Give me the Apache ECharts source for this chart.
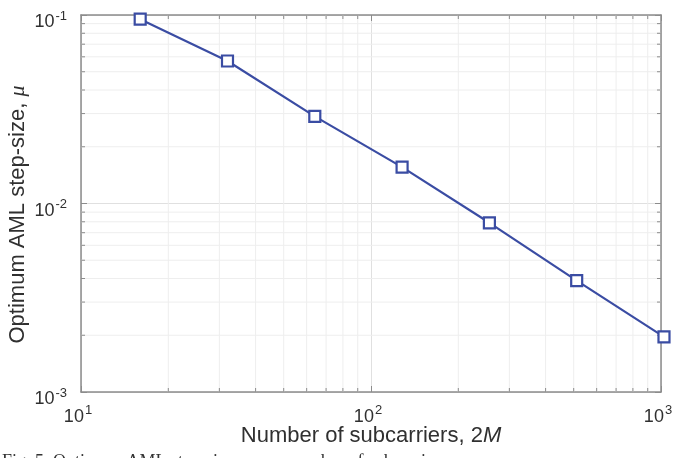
<!DOCTYPE html>
<html>
<head>
<meta charset="utf-8">
<script src="https://cdn.jsdelivr.net/npm/echarts@6/dist/echarts.min.js"></script>
<style>
html,body{margin:0;padding:0;background:#fff;}
#c{width:673px;height:458px;}
</style>
</head>
<body>
<div id="c"></div>
<script>
// Data
const subcarriers = [16, 32, 64, 128, 256, 512, 1024];
const stepSize = [0.095, 0.057, 0.029, 0.0156, 0.0079, 0.0039, 0.00196];
const xMinorTicks = [20, 30, 40, 50, 60, 70, 80, 90, 200, 300, 400, 500, 600, 700, 800, 900];
const yMinorTicks = [0.002, 0.003, 0.004, 0.005, 0.006, 0.007, 0.008, 0.009, 0.02, 0.03, 0.04, 0.05, 0.06, 0.07, 0.08, 0.09];
const xMin = 10, xMax = 1000, yMin = 0.001, yMax = 0.1;
const xTitle = 'Number of subcarriers, 2';
const xTitleItalic = 'M';
const yTitle = 'Optimum AML step-size, ';
const yTitleItalic = 'μ';
const caption = 'Fig. 5. Optimum AML step-size versus number of subcarriers.';

const FONT = 'Liberation Sans, Arial, Helvetica, sans-serif';
const AXIS_COLOR = '#8c8c8c';
const TEXT_COLOR = '#303030';
const LINE_COLOR = '#3a4ca3';

function powLabel(v) {
  const e = Math.round(Math.log10(v));
  return '{b|10}{s|' + e + '}';
}
const labelRich = {
  b: {fontSize: 18, fontFamily: FONT, color: TEXT_COLOR, verticalAlign: 'bottom', lineHeight: 22},
  s: {fontSize: 13, fontFamily: FONT, color: TEXT_COLOR, verticalAlign: 'top', padding: [0, 0, 11, 1], lineHeight: 22}
};

const chart = echarts.init(document.getElementById('c'), null, {renderer: 'canvas'});

function minorX(params, api) {
  const cs = params.coordSys;
  const p = api.coord([api.value(0), yMin]);
  const x = p[0];
  return {
    type: 'group',
    children: [
      {type: 'line', shape: {x1: x, y1: cs.y, x2: x, y2: cs.y + cs.height}, style: {stroke: '#eeeeee', lineWidth: 1}},
      {type: 'line', shape: {x1: x, y1: cs.y + cs.height, x2: x, y2: cs.y + cs.height - 4}, style: {stroke: AXIS_COLOR, lineWidth: 1}},
      {type: 'line', shape: {x1: x, y1: cs.y, x2: x, y2: cs.y + 4}, style: {stroke: AXIS_COLOR, lineWidth: 1}}
    ]
  };
}
function minorY(params, api) {
  const cs = params.coordSys;
  const p = api.coord([xMin, api.value(1)]);
  const y = p[1];
  return {
    type: 'group',
    children: [
      {type: 'line', shape: {x1: cs.x, y1: y, x2: cs.x + cs.width, y2: y}, style: {stroke: '#eeeeee', lineWidth: 1}},
      {type: 'line', shape: {x1: cs.x, y1: y, x2: cs.x + 4, y2: y}, style: {stroke: AXIS_COLOR, lineWidth: 1}},
      {type: 'line', shape: {x1: cs.x + cs.width, y1: y, x2: cs.x + cs.width - 4, y2: y}, style: {stroke: AXIS_COLOR, lineWidth: 1}}
    ]
  };
}

const axisCommon = {
  type: 'log',
  logBase: 10,
  nameMoveOverlap: false,
  axisLine: {show: true, lineStyle: {color: AXIS_COLOR, width: 1.5}},
  axisTick: {show: true, inside: true, length: 6, lineStyle: {color: AXIS_COLOR}},
};

chart.setOption({
  animation: false,
  backgroundColor: '#fff',
  grid: {left: 81, right: 12, top: 15, bottom: 66, containLabel: false, outerBoundsMode: 'none'},
  xAxis: [
    Object.assign({}, axisCommon, {
      min: xMin, max: xMax, position: 'bottom',
      axisLabel: {formatter: powLabel, rich: labelRich, margin: 12, padding: [0, 6, 0, 0]},
      splitLine: {show: true, lineStyle: {color: '#e0e0e0', width: 1}},
      name: '{t|' + xTitle + '}{i|' + xTitleItalic + '}',
      nameLocation: 'middle', nameGap: 33,
      nameTextStyle: {rich: {
        t: {fontSize: 22, fontFamily: FONT, color: TEXT_COLOR},
        i: {fontSize: 22, fontFamily: FONT, fontStyle: 'italic', color: TEXT_COLOR}
      }}
    }),
    Object.assign({}, axisCommon, {
      min: xMin, max: xMax, position: 'top',
      axisLabel: {show: false}, splitLine: {show: false}
    })
  ],
  yAxis: [
    Object.assign({}, axisCommon, {
      min: yMin, max: yMax, position: 'left',
      axisLabel: {formatter: powLabel, rich: labelRich, margin: 14, padding: [11, 0, 0, 0]},
      splitLine: {show: true, lineStyle: {color: '#e0e0e0', width: 1}},
      name: '{t|' + yTitle + '}{i|' + yTitleItalic + '}',
      nameLocation: 'middle', nameGap: 52,
      nameTextStyle: {padding: [0, 22, 0, 0], rich: {
        t: {fontSize: 22, fontFamily: FONT, color: TEXT_COLOR},
        i: {fontSize: 22, fontFamily: 'Liberation Serif, serif', fontStyle: 'italic', color: TEXT_COLOR}
      }}
    }),
    Object.assign({}, axisCommon, {
      min: yMin, max: yMax, position: 'right',
      axisLabel: {show: false}, splitLine: {show: false}
    })
  ],
  series: [
    {
      type: 'custom', xAxisIndex: 0, yAxisIndex: 0, clip: false, silent: true, z: 1,
      data: xMinorTicks.map(v => [v, yMin]),
      renderItem: minorX
    },
    {
      type: 'custom', xAxisIndex: 0, yAxisIndex: 0, clip: false, silent: true, z: 1,
      data: yMinorTicks.map(v => [xMin, v]),
      renderItem: minorY
    },
    {
      type: 'line', xAxisIndex: 0, yAxisIndex: 0, clip: false, z: 5,
      data: subcarriers.map((x, i) => [x, stepSize[i]]),
      lineStyle: {color: LINE_COLOR, width: 2.2},
      itemStyle: {color: '#fff', borderColor: LINE_COLOR, borderWidth: 2.2},
      symbol: 'rect', symbolSize: 11, showAllSymbol: true
    }
  ],
  graphic: [
    {type: 'text', left: 2, top: 453, style: {text: caption, font: '18px "Liberation Serif", "Times New Roman", serif', fill: '#333'}}
  ]
});
</script>
</body>
</html>
